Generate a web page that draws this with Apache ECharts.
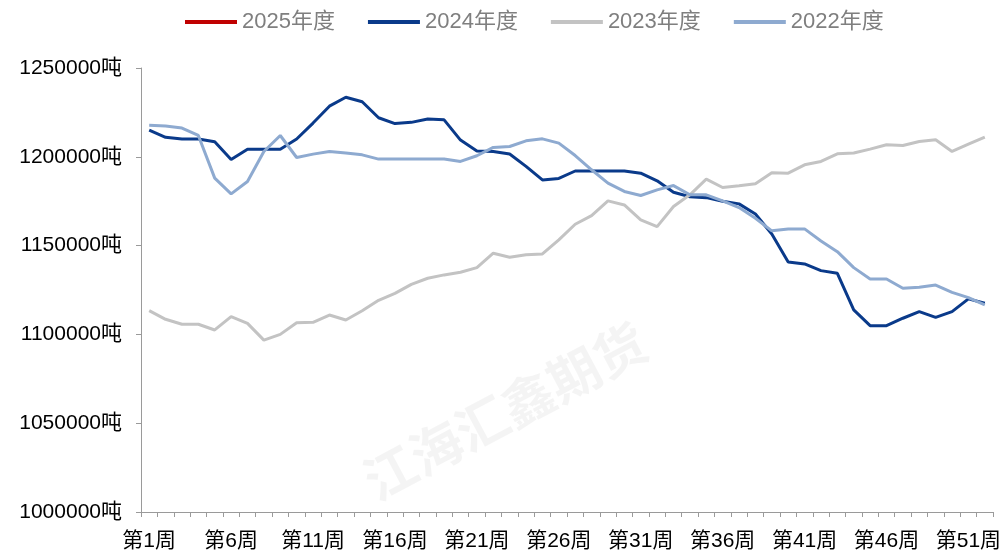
<!DOCTYPE html>
<html>
<head>
<meta charset="utf-8">
<script src="https://cdn.jsdelivr.net/npm/echarts@6/dist/echarts.min.js"></script>
<style>
  html, body { margin: 0; padding: 0; background: #fff; }
  #chart { width: 1005px; height: 554px; }
</style>
</head>
<body>
<div id="chart"></div>
<script>
// 周度数据（吨）
var weeks = [];
for (var i = 1; i <= 52; i++) weeks.push('第' + i + '周');

var yLabels = ['1000000', '1050000', '1100000', '1150000', '1200000', '1250000'];

var s2025 = []; // 暂无数据

var s2024 = [1215000, 1211000, 1210000, 1210000, 1208500, 1198500, 1204300, 1204300, 1204300, 1210000,
  1219000, 1228500, 1233500, 1231000, 1222000, 1218700, 1219400, 1221300, 1220800, 1209400,
  1203300, 1203000, 1201600, 1194600, 1187000, 1187800, 1192000, 1192000, 1192000, 1192000,
  1190800, 1186500, 1180000, 1177500, 1177000, 1175000, 1173500, 1167800, 1156500, 1140800,
  1139700, 1135900, 1134400, 1113800, 1104900, 1104900, 1109100, 1112800, 1109600, 1112800,
  1120000, 1117500];

var s2023 = [1113400, 1108500, 1105700, 1105700, 1102500, 1110000, 1106200, 1096800, 1100000, 1106600,
  1106800, 1110900, 1108100, 1113300, 1119200, 1123100, 1128200, 1131600, 1133500, 1135000,
  1137600, 1145700, 1143400, 1144800, 1145300, 1153200, 1162000, 1166900, 1175200, 1172900,
  1164500, 1160700, 1172000, 1178600, 1187400, 1182700, 1183700, 1184800, 1191000, 1190800,
  1195500, 1197400, 1201700, 1202100, 1204300, 1206800, 1206400, 1208600, 1209600, 1203000,
  1207100, 1211100];

var s2022 = [1217700, 1217300, 1216200, 1212000, 1188000, 1179100, 1186100, 1203000, 1212000, 1199600,
  1201500, 1203000, 1202100, 1201100, 1198700, 1198700, 1198700, 1198700, 1198700, 1197400,
  1200600, 1205300, 1205800, 1209000, 1210100, 1207700, 1200700, 1192700, 1185200, 1180500,
  1178200, 1181400, 1183800, 1178600, 1178600, 1175200, 1171400, 1165400, 1158300, 1159400,
  1159400, 1152600, 1146600, 1137600, 1131200, 1131200, 1126000, 1126500, 1127800, 1123700,
  1120700, 1116600];

var seriesNames = ['2025年度', '2024年度', '2023年度', '2022年度'];
var colors = ['#c00000', '#0a3a8a', '#c3c3c3', '#8eaad0'];

var chart = echarts.init(document.getElementById('chart'));

function lineSeries(name, data) {
  return {
    name: name,
    type: 'line',
    data: data,
    symbol: 'none',
    smooth: false,
    lineStyle: { width: 3 }
  };
}

chart.setOption({
  animation: false,
  color: colors,
  legend: {
    top: 6,
    left: 180,
    itemWidth: 52,
    itemHeight: 4,
    itemGap: 33,
    icon: 'rect',
    textStyle: { color: '#7f7f7f', fontSize: 22, fontFamily: 'Liberation Sans, Noto Sans CJK SC' },
    data: seriesNames
  },
  grid: { left: 141, right: 12, top: 68, bottom: 42 },
  graphic: [{
    type: 'text',
    left: 355,
    top: 315,
    rotation: Math.PI * 28 / 180,
    style: {
      text: '江海汇鑫期货',
      fill: 'rgba(0,0,0,0.045)',
      font: 'bold 52px "Noto Sans CJK SC"'
    },
    silent: true,
    z: -1
  }],
  xAxis: {
    type: 'category',
    data: weeks,
    boundaryGap: true,
    axisLine: { lineStyle: { color: '#9a9a9a', width: 1 } },
    axisTick: { show: true, interval: 0, length: 5, lineStyle: { color: '#9a9a9a' } },
    axisLabel: {
      interval: 4,
      margin: 19,
      color: '#000',
      fontSize: 21,
      fontFamily: 'Liberation Sans, Noto Sans CJK SC'
    },
    splitLine: { show: false }
  },
  yAxis: {
    type: 'value',
    min: 1000000,
    max: 1250000,
    interval: 50000,
    axisLine: { show: true, lineStyle: { color: '#9a9a9a', width: 1 } },
    axisTick: { show: true, length: 5, lineStyle: { color: '#9a9a9a' } },
    splitLine: { show: false },
    axisLabel: {
      margin: 19,
      color: '#000',
      fontSize: 21,
      fontFamily: 'Liberation Sans, Noto Sans CJK SC',
      formatter: function (v) {
        var idx = yLabels.indexOf(String(v));
        return (idx >= 0 ? yLabels[idx] : v) + '吨';
      }
    }
  },
  series: [
    lineSeries(seriesNames[0], s2025),
    lineSeries(seriesNames[1], s2024),
    lineSeries(seriesNames[2], s2023),
    lineSeries(seriesNames[3], s2022)
  ]
});
</script>
</body>
</html>
